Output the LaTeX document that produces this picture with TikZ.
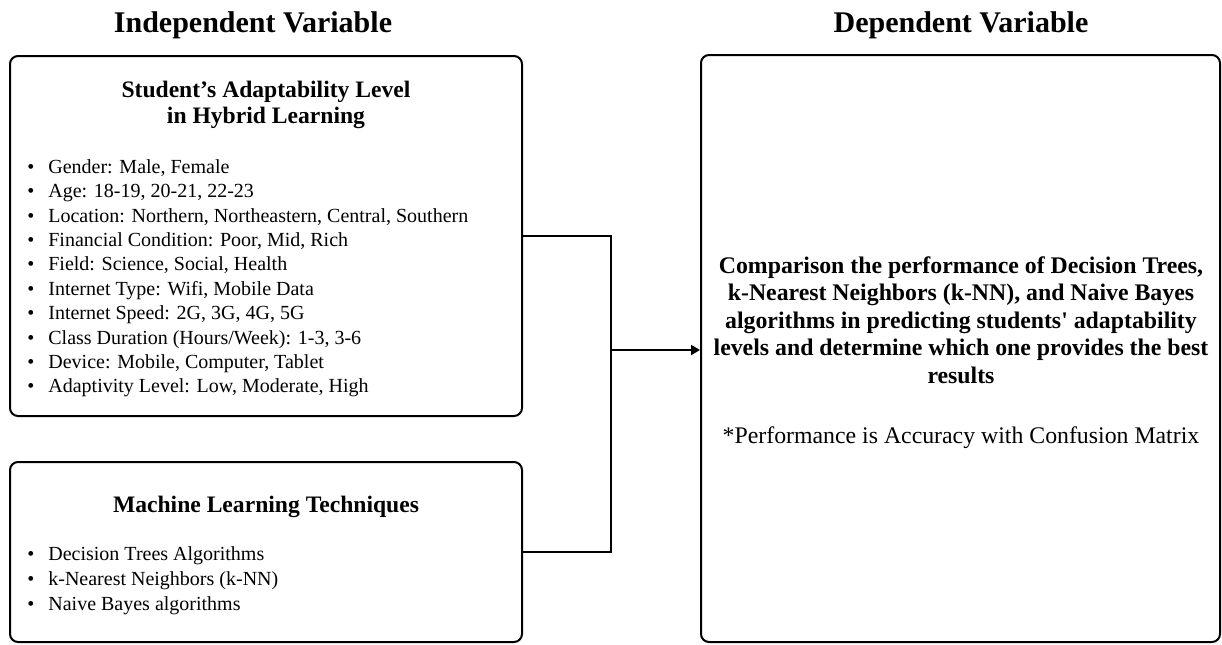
\documentclass[tikz,border=0pt]{standalone}
\usepackage{fontspec}
\setmainfont{Liberation Serif}
\usetikzlibrary{positioning,arrows.meta}

\newcommand{\bulletitem}[1]{\makebox[10.5pt][l]{\textbullet}#1}

\tikzset{
    varbox/.style={draw, line width=1pt, rounded corners=4pt, inner sep=0pt},
    heading/.style={font=\fontsize{15}{18}\selectfont\bfseries, inner sep=0pt},
    boxtitle/.style={font=\fontsize{11.8}{13}\selectfont\bfseries, align=center, inner sep=0pt},
    itemlist/.style={font=\fontsize{10}{12.2}\selectfont, align=left, inner sep=0pt},
    link/.style={line width=1pt}
}

\begin{document}
\begin{tikzpicture}[x=0.5pt,y=-0.5pt]
    \useasboundingbox (0,0) rectangle (1222,644);

    % headings
    \node[heading, anchor=base] (indep) at (253,32) {Independent Variable};
    \node[heading, anchor=base] (dep) at (961,32) {Dependent Variable};

    % left boxes
    \node[varbox, minimum width=256pt, minimum height=180pt] (student) at (266,236) {};
    \node[boxtitle, anchor=north] (studenttitle) at (266,81) {Student’s Adaptability Level\\in Hybrid Learning};
    \node[itemlist, anchor=north west] (studentlist) at (27,159) {%
        \bulletitem{Gender: Male, Female}\\
        \bulletitem{Age: 18-19, 20-21, 22-23}\\
        \bulletitem{Location: Northern, Northeastern, Central, Southern}\\
        \bulletitem{Financial Condition: Poor, Mid, Rich}\\
        \bulletitem{Field: Science, Social, Health}\\
        \bulletitem{Internet Type: Wifi, Mobile Data}\\
        \bulletitem{Internet Speed: 2G, 3G, 4G, 5G}\\
        \bulletitem{Class Duration (Hours/Week): 1-3, 3-6}\\
        \bulletitem{Device: Mobile, Computer, Tablet}\\
        \bulletitem{Adaptivity Level: Low, Moderate, High}};

    \node[varbox, minimum width=256pt, minimum height=90pt] (mlt) at (266,552) {};
    \node[boxtitle, anchor=base] (mlttitle) at (266,512) {Machine Learning Techniques};
    \node[itemlist, font=\fontsize{10}{12.5}\selectfont, anchor=north west] (mltlist) at (27,546) {%
        \bulletitem{Decision Trees Algorithms}\\
        \bulletitem{k-Nearest Neighbors (k-NN)}\\
        \bulletitem{Naive Bayes algorithms}};

    % right box
    \node[varbox, minimum width=259.5pt, minimum height=293.5pt] (dependent) at (960.5,348.5) {};
    \node[boxtitle, font=\fontsize{11.9}{13.75}\selectfont\bfseries, anchor=north] (comparison) at (961,256) {%
        Comparison the performance of Decision Trees,\\
        k-Nearest Neighbors (k-NN), and Naive Bayes\\
        algorithms in predicting students\textquotesingle{} adaptability\\
        levels and determine which one provides the best\\
        results};
    \node[font=\fontsize{11.9}{13.75}\selectfont, inner sep=0pt, anchor=base] (note) at (961,443) {*Performance is Accuracy with Confusion Matrix};

    % connectors
    \coordinate (join) at (611,350);
    \draw[link] (student.east) -| (join) |- (mlt.east);
    \draw[link, -{Triangle[length=4.5pt, width=5pt]}] (join) -- (join -| dependent.west);
\end{tikzpicture}
\end{document}
